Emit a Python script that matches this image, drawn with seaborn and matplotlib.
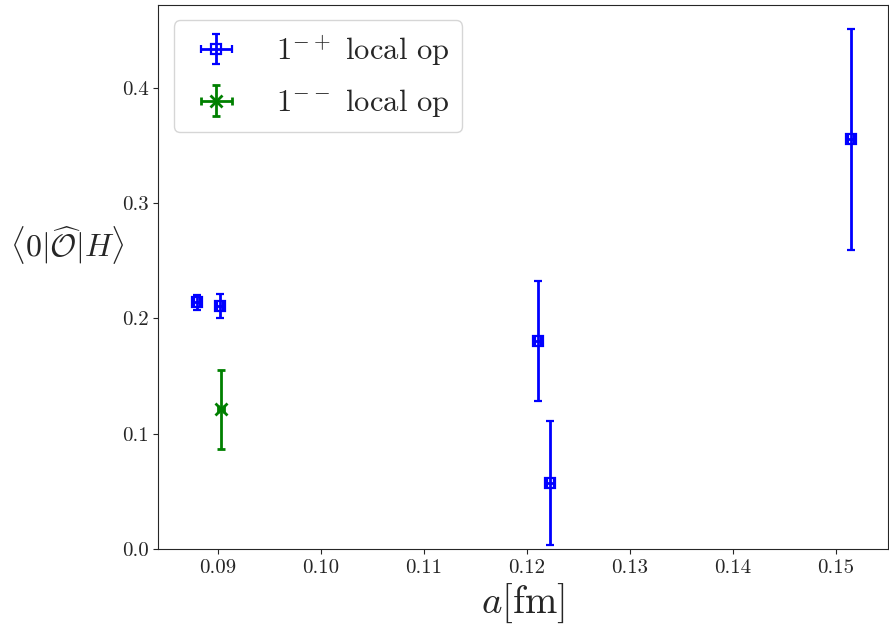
import matplotlib
matplotlib.use("Agg")
import matplotlib.pyplot as plt
import seaborn as sns

# 1^{-+} local operator
a_mp = [0.0880, 0.0902, 0.1211, 0.1223, 0.1515]
val_mp = [0.2140, 0.2110, 0.1805, 0.0570, 0.3555]
err_mp = [0.0065, 0.0105, 0.0520, 0.0540, 0.0960]
aerr_mp = [0.0003, 0.0003, 0.0003, 0.0003, 0.0003]

# 1^{--} local operator
a_mm = [0.0903]
val_mm = [0.1210]
err_mm = [0.0345]
aerr_mm = [0.0003]

sns.set_style("ticks")
plt.rcParams['font.family'] = 'serif'
plt.rcParams['font.serif'] = ['cmr10']
plt.rcParams['mathtext.fontset'] = 'cm'
plt.rcParams['axes.formatter.use_mathtext'] = True

fig, ax = plt.subplots(figsize=(8.89, 6.39), dpi=100)
fig.subplots_adjust(left=0.178, right=0.999, top=0.992, bottom=0.141)

ax.errorbar(a_mp, val_mp, yerr=err_mp, xerr=aerr_mp, fmt='s', color='blue',
            mfc='none', ms=7, mew=1.6, elinewidth=2, capsize=3, capthick=2,
            label=r'$1^{-+}$ local op')
ax.errorbar(a_mm, val_mm, yerr=err_mm, xerr=aerr_mm, fmt='x', color='green',
            ms=8, mew=2, elinewidth=2, capsize=3, capthick=2,
            label=r'$1^{--}$ local op')

ax.set_xlim(0.0842, 0.1551)
ax.set_ylim(0.0, 0.472)
ax.set_xticks([0.09, 0.10, 0.11, 0.12, 0.13, 0.14, 0.15])
ax.set_yticks([0.0, 0.1, 0.2, 0.3, 0.4])
ax.set_xticklabels(['0.09', '0.10', '0.11', '0.12', '0.13', '0.14', '0.15'])
ax.set_yticklabels(['0.0', '0.1', '0.2', '0.3', '0.4'])
ax.tick_params(axis='both', direction='out', labelsize=15)

ax.set_xlabel(r'$a[\mathrm{fm}]$', fontsize=28)
ax.set_ylabel(r'$\langle 0|\widehat{\mathcal{O}}|H\rangle$', fontsize=23,
              rotation=0)
ax.yaxis.set_label_coords(-0.125, 0.52)

ax.legend(loc='upper left', fontsize=22, handlelength=2.0, handletextpad=0.95,
          borderpad=0.4, labelspacing=0.65, bbox_to_anchor=(0.0, 1.0))

fig.savefig('out.png', dpi=100)
